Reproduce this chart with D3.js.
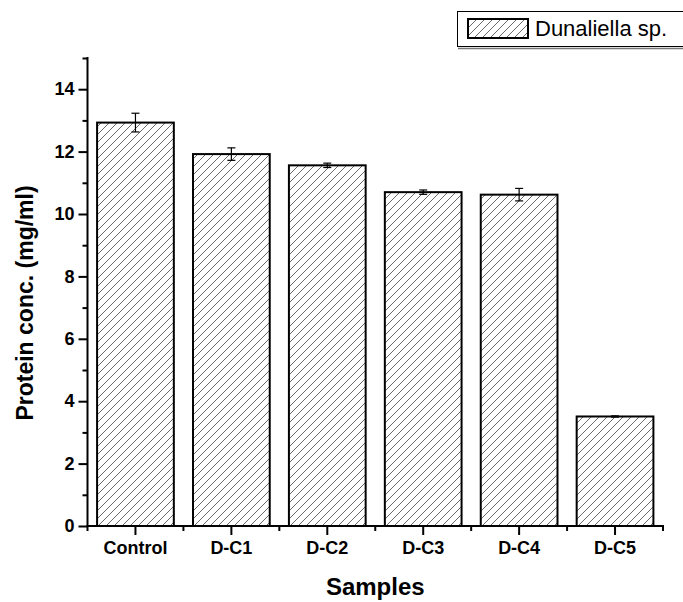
<!DOCTYPE html>
<html>
<head>
<meta charset="utf-8">
<script src="https://cdn.jsdelivr.net/npm/d3@7"></script>
<style>
  body { margin: 0; background: #fff; }
  svg { display: block; font-family: Arial, "Liberation Sans", sans-serif; }
</style>
</head>
<body>
<div id="chart"></div>
<script>
  // values
  var samples = ['Control', 'D-C1', 'D-C2', 'D-C3', 'D-C4', 'D-C5'];
  var protein = [12.93, 11.92, 11.56, 10.70, 10.62, 3.51];
  var errors = [0.30, 0.20, 0.07, 0.07, 0.20, 0.02];
  var majorTicks = [0, 2, 4, 6, 8, 10, 12, 14];
  var minorTicks = [1, 3, 5, 7, 9, 11, 13, 15];
  var seriesName = 'Dunaliella sp.';

(function () {
  'use strict';

  var width = 683, height = 602;
  var mLeft = 87.5, mRight = 663, mTop = 58, mBottom = 526;

  var data = samples.map(function (s, i) {
    return { name: s, value: protein[i], err: errors[i] };
  });

  var svg = d3.select('#chart').append('svg')
    .attr('width', width).attr('height', height);

  var defs = svg.append('defs');
  var pat = defs.append('pattern').attr('id', 'hatch')
    .attr('patternUnits', 'userSpaceOnUse')
    .attr('width', 8).attr('height', 8);
  pat.append('rect').attr('width', 8).attr('height', 8).attr('fill', '#fff');
  pat.append('path')
    .attr('d', 'M-2,2 L2,-2 M0,8 L8,0 M6,10 L10,6')
    .attr('stroke', '#6a6a6a').attr('stroke-width', 1);

  var x = d3.scaleBand().domain(samples).range([mLeft, mRight])
    .paddingInner(0.2).paddingOuter(0.1);
  var y = d3.scaleLinear().domain([0, 15]).range([mBottom, mTop]);

  // bars
  svg.append('g').selectAll('rect').data(data).join('rect')
    .attr('x', function (d) { return x(d.name); })
    .attr('y', function (d) { return y(d.value); })
    .attr('width', x.bandwidth())
    .attr('height', function (d) { return y(0) - y(d.value); })
    .attr('fill', 'url(#hatch)')
    .attr('stroke', '#000').attr('stroke-width', 2);

  // error bars
  var eb = svg.append('g').attr('stroke', '#000').attr('stroke-width', 1.2)
    .selectAll('g').data(data).join('g')
    .attr('transform', function (d) { return 'translate(' + (x(d.name) + x.bandwidth() / 2) + ',0)'; });
  eb.append('line')
    .attr('y1', function (d) { return y(d.value + d.err); })
    .attr('y2', function (d) { return y(d.value - d.err); });
  eb.append('line').attr('x1', -4).attr('x2', 4)
    .attr('y1', function (d) { return y(d.value + d.err); })
    .attr('y2', function (d) { return y(d.value + d.err); });
  eb.append('line').attr('x1', -4).attr('x2', 4)
    .attr('y1', function (d) { return y(d.value - d.err); })
    .attr('y2', function (d) { return y(d.value - d.err); });

  // y axis
  var yAxis = svg.append('g').attr('transform', 'translate(' + mLeft + ',0)')
    .call(d3.axisLeft(y).tickValues(majorTicks).tickSize(9).tickPadding(4).tickFormat(d3.format('d')));
  yAxis.select('.domain').remove();
  yAxis.selectAll('line').attr('stroke-width', 2);
  yAxis.selectAll('text').attr('font-size', 18).attr('font-weight', 'bold').attr('fill', '#000');
  svg.append('g').attr('transform', 'translate(' + mLeft + ',0)')
    .call(d3.axisLeft(y).tickValues(minorTicks).tickSize(5).tickFormat(''))
    .call(function (g) { g.select('.domain').remove(); })
    .selectAll('line').attr('stroke-width', 2);
  svg.append('line').attr('x1', mLeft).attr('x2', mLeft)
    .attr('y1', y(15) - 1).attr('y2', y(0) + 1)
    .attr('stroke', '#000').attr('stroke-width', 2);

  // x axis
  var xAxis = svg.append('g').attr('transform', 'translate(0,' + mBottom + ')')
    .call(d3.axisBottom(x).tickSize(9).tickPadding(6));
  xAxis.select('.domain').remove();
  xAxis.selectAll('line').attr('stroke-width', 2);
  xAxis.selectAll('text').attr('font-size', 18).attr('font-weight', 'bold').attr('fill', '#000');
  var bounds = d3.range(samples.length + 1).map(function (i) { return mLeft + i * x.step(); });
  svg.append('g').selectAll('line').data(bounds).join('line')
    .attr('x1', function (d) { return d; }).attr('x2', function (d) { return d; })
    .attr('y1', mBottom).attr('y2', mBottom + 5)
    .attr('stroke', '#000').attr('stroke-width', 2);
  svg.append('line').attr('x1', mLeft - 1).attr('x2', mRight + 1)
    .attr('y1', mBottom).attr('y2', mBottom)
    .attr('stroke', '#000').attr('stroke-width', 2);

  // axis titles
  svg.append('text')
    .attr('transform', 'translate(33,' + ((mTop + mBottom) / 2 + 11) + ') rotate(-90)')
    .attr('text-anchor', 'middle')
    .attr('font-size', 23).attr('font-weight', 'bold')
    .text('Protein conc. (mg/ml)');
  svg.append('text')
    .attr('x', (mLeft + mRight) / 2).attr('y', 595)
    .attr('text-anchor', 'middle')
    .attr('font-size', 24).attr('font-weight', 'bold')
    .text('Samples');

  // legend
  var lg = svg.append('g');
  lg.append('line').attr('x1', 458).attr('x2', 683).attr('y1', 48.5).attr('y2', 48.5)
    .attr('stroke', '#777').attr('stroke-width', 1.5);
  lg.append('rect').attr('x', 457.5).attr('y', 11.5).attr('width', 226).attr('height', 35)
    .attr('fill', '#fff').attr('stroke', '#000').attr('stroke-width', 1);
  lg.append('rect').attr('x', 468).attr('y', 19).attr('width', 60).attr('height', 19)
    .attr('fill', 'url(#hatch)').attr('stroke', '#000').attr('stroke-width', 2);
  lg.append('text').attr('x', 535).attr('y', 36)
    .attr('font-size', 22).text(seriesName);
})();
</script>
</body>
</html>
